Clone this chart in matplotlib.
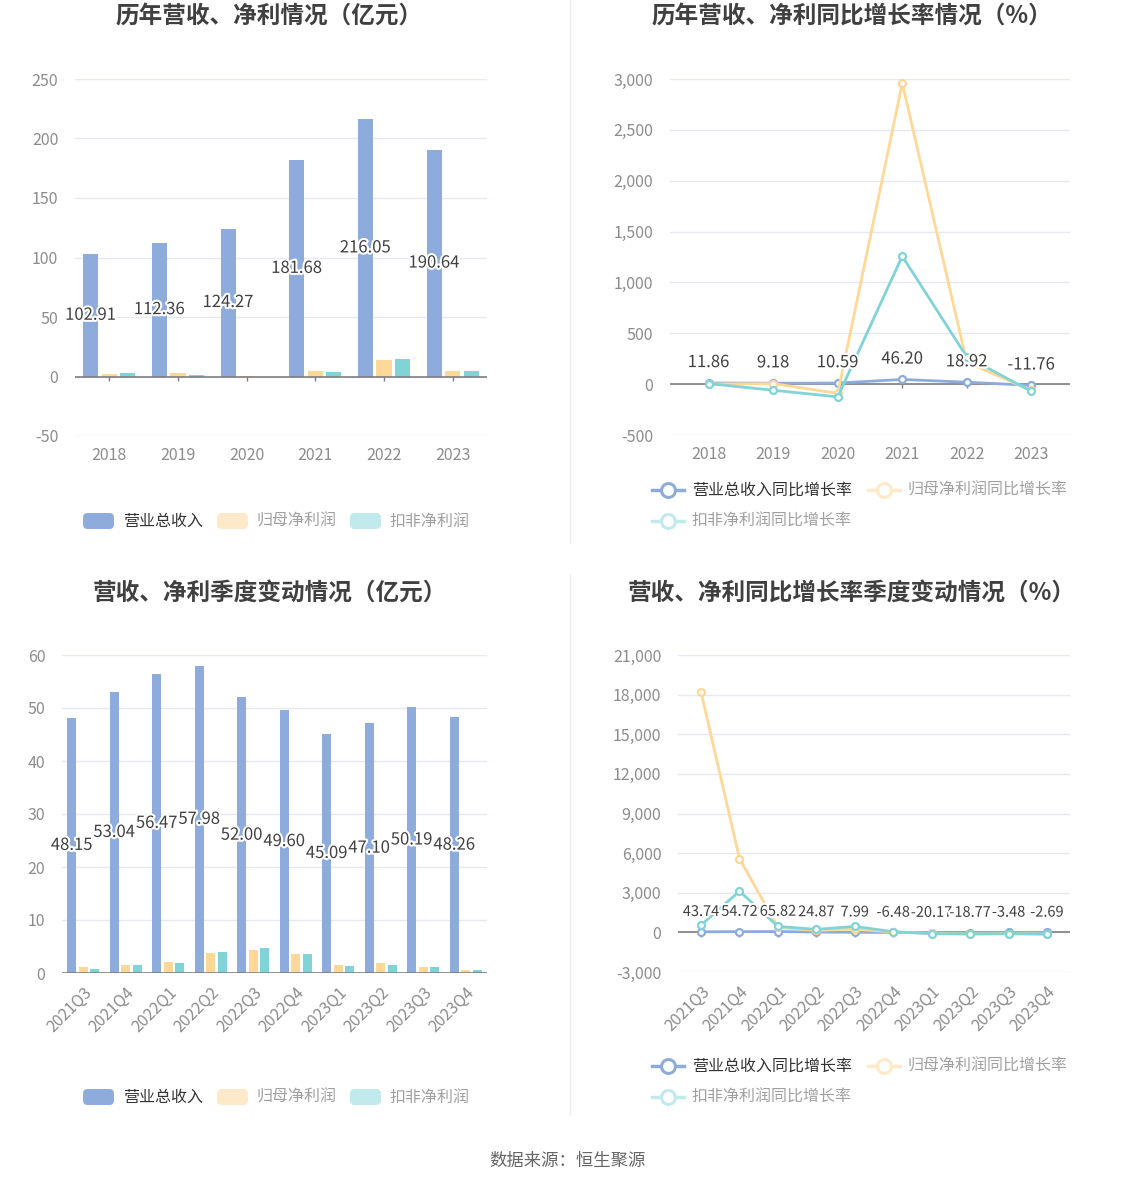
import matplotlib.pyplot as plt
import matplotlib.patches as mpatches
from matplotlib.lines import Line2D
import matplotlib.patheffects as pe
import numpy as np

plt.rcParams['font.family'] = ['Noto Sans CJK SC', 'DejaVu Sans']

# annual data
years = ['2018', '2019', '2020', '2021', '2022', '2023']
revenue = [102.91, 112.36, 124.27, 181.68, 216.05, 190.64]
net_profit = [2.5, 2.6, 0.14, 4.3, 13.5, 5.0]
net_profit_ded = [2.7, 1.0, -0.3, 3.7, 14.3, 4.3]
rev_growth = [11.86, 9.18, 10.59, 46.20, 18.92, -11.76]
np_growth = [2, 5, -90, 2960, 215, -62]
ded_growth = [5, -60, -125, 1258, 268, -70]

# quarterly data
quarters = ['2021Q3', '2021Q4', '2022Q1', '2022Q2', '2022Q3', '2022Q4',
            '2023Q1', '2023Q2', '2023Q3', '2023Q4']
q_revenue = [48.15, 53.04, 56.47, 57.98, 52.00, 49.60, 45.09, 47.10, 50.19, 48.26]
q_net_profit = [1.05, 1.6, 2.1, 3.8, 4.3, 3.5, 1.45, 1.9, 1.1, 0.6]
q_net_profit_ded = [0.75, 1.6, 1.9, 4.0, 4.8, 3.6, 1.4, 1.6, 1.05, 0.6]
q_rev_growth = [43.74, 54.72, 65.82, 24.87, 7.99, -6.48, -20.17, -18.77, -3.48, -2.69]
q_np_growth = [18180, 5590, 380, 150, 250, 30, -80, -120, -100, -130]
q_ded_growth = [550, 3120, 450, 230, 450, 50, -100, -120, -100, -130]

BLUE = '#8eacdb'
YELLOW = '#ffd796'
CYAN = '#80d4d8'
BLUE_L = '#8eacdb'
YELLOW_L = '#ffe9c8'
CYAN_L = '#c0eaeb'
GRID = '#e6e9f2'
TICK = '#8c8c8c'
W, H = 1134, 1188

fig = plt.figure(figsize=(W / 100, H / 100), dpi=100)


def box(x0, x1, y_top, y_bot):
    return [x0 / W, 1 - y_bot / H, (x1 - x0) / W, (y_bot - y_top) / H]


def style_axes(ax, ylim, yticks, fmt):
    ax.set_ylim(*ylim)
    ax.set_yticks(yticks)
    ax.set_yticklabels([fmt(v) for v in yticks])
    ax.grid(axis='y', color=GRID, lw=1)
    ax.set_axisbelow(True)
    for s in ax.spines.values():
        s.set_visible(False)
    ax.tick_params(axis='y', length=0, labelsize=11.5, colors=TICK, pad=12)
    ax.tick_params(axis='x', length=0, labelsize=11.5, colors=TICK, pad=8)


def zero_axis(ax, n, tick_len):
    ax.axhline(0, color='#7f7f7f', lw=1.2, zorder=3)
    ax.vlines(np.arange(n), -tick_len, 0, color='#7f7f7f', lw=1, zorder=3)


def bar_panel(ax, cats, rev, npf, ded, ylim, yticks, tick_len, rot):
    x = np.arange(len(cats))
    bw = 0.22
    off = 0.27
    ax.bar(x - off, rev, bw, color=BLUE, zorder=2)
    ax.bar(x, npf, bw, color=YELLOW, zorder=2)
    ax.bar(x + off, ded, bw, color=CYAN, zorder=2)
    style_axes(ax, ylim, yticks, lambda v: f'{v:g}')
    ax.set_xlim(-0.5, len(cats) - 0.5)
    ax.set_xticks(x)
    if rot:
        ax.set_xticklabels(cats, rotation=45, ha='right', rotation_mode='anchor')
    else:
        ax.set_xticklabels(cats)
    zero_axis(ax, len(cats), tick_len)
    for xi, v in zip(x, rev):
        ax.text(xi - off, v / 2, f'{v:.2f}', ha='center', va='center', fontsize=12,
                color='#404040', zorder=5,
                path_effects=[pe.withStroke(linewidth=3, foreground='white')])


def line_panel(ax, cats, g1, g2, g3, ylim, yticks, tick_len, rot, lab_off, lab_fs):
    x = np.arange(len(cats))
    kw = dict(lw=2, marker='o', ms=5, mfc='white', mew=1.6, zorder=4)
    ax.plot(x, g1, color=BLUE, **kw)
    ax.plot(x, g2, color=YELLOW, **kw)
    ax.plot(x, g3, color=CYAN, **kw)
    style_axes(ax, ylim, yticks, lambda v: f'{v:,.0f}')
    ax.set_xlim(-0.6, len(cats) - 0.4)
    ax.set_xticks(x)
    if rot:
        ax.set_xticklabels(cats, rotation=45, ha='right', rotation_mode='anchor')
    else:
        ax.set_xticklabels(cats)
    zero_axis(ax, len(cats), tick_len)
    for xi, v in zip(x, g1):
        ax.text(xi, v + lab_off, f'{v:.2f}', ha='center', va='center', fontsize=lab_fs,
                color='#404040', zorder=5,
                path_effects=[pe.withStroke(linewidth=3, foreground='white')])


def bar_legend(y):
    items = [('营业总收入', BLUE_L, '#333333', 83),
             ('归母净利润', YELLOW_L, '#a0a0a0', 217),
             ('扣非净利润', CYAN_L, '#a0a0a0', 350)]
    for label, c, tc, x0 in items:
        fig.patches.append(mpatches.FancyBboxPatch(
            (x0 / W, 1 - (y + 8) / H), 31 / W, 16 / H,
            boxstyle='round,pad=0,rounding_size=0.004', fc=c, ec='none',
            transform=fig.transFigure))
        fig.text((x0 + 40) / W, 1 - y / H, label, fontsize=11.5, color=tc,
                 va='center', ha='left')


def line_legend(y1, y2):
    items = [('营业总收入同比增长率', BLUE_L, '#333333', 652, y1),
             ('归母净利润同比增长率', YELLOW_L, '#a0a0a0', 868, y1),
             ('扣非净利润同比增长率', CYAN_L, '#a0a0a0', 652, y2)]
    for label, c, tc, x0, y in items:
        fig.lines.append(Line2D([x0 / W, (x0 + 32) / W], [1 - y / H, 1 - y / H],
                                color=c, lw=2.5, transform=fig.transFigure))
        fig.lines.append(Line2D([(x0 + 16) / W], [1 - y / H], color=c, marker='o',
                                ms=10, mfc='white', mew=2.2,
                                transform=fig.transFigure))
        fig.text((x0 + 40) / W, 1 - y / H, label, fontsize=11.5, color=tc,
                 va='center', ha='left')


# top left
ax1 = fig.add_axes(box(75, 487, 79, 436))
bar_panel(ax1, years, revenue, net_profit, net_profit_ded, (-50, 250),
          [-50, 0, 50, 100, 150, 200, 250], 4, False)
fig.text(269 / W, 1 - 17 / H, '历年营收、净利情况（亿元）', fontsize=17,
         fontweight='bold', color='#404040', ha='center', va='center')
bar_legend(521)

# top right
ax2 = fig.add_axes(box(670, 1070, 79, 435))
line_panel(ax2, years, rev_growth, np_growth, ded_growth, (-500, 3000),
           list(range(-500, 3001, 500)), 40, False, 200, 12)
fig.text(852 / W, 1 - 17 / H, '历年营收、净利同比增长率情况（%）', fontsize=17,
         fontweight='bold', color='#404040', ha='center', va='center')
line_legend(490, 521)

# bottom left
ax3 = fig.add_axes(box(62, 487, 655, 973))
bar_panel(ax3, quarters, q_revenue, q_net_profit, q_net_profit_ded, (0, 60),
          [0, 10, 20, 30, 40, 50, 60], 1, True)
fig.text(270 / W, 1 - 593 / H, '营收、净利季度变动情况（亿元）', fontsize=17,
         fontweight='bold', color='#404040', ha='center', va='center')
bar_legend(1097)

# bottom right
ax4 = fig.add_axes(box(678, 1070, 655, 972))
line_panel(ax4, quarters, q_rev_growth, q_np_growth, q_ded_growth, (-3000, 21000),
           list(range(-3000, 21001, 3000)), 350, True, 1500, 10.5)
fig.text(852 / W, 1 - 593 / H, '营收、净利同比增长率季度变动情况（%）', fontsize=17,
         fontweight='bold', color='#404040', ha='center', va='center')
line_legend(1066, 1097)

# dividers
fig.lines.append(Line2D([570 / W, 570 / W], [1, 1 - 543 / H], color='#eeeeee',
                        lw=1, transform=fig.transFigure))
fig.lines.append(Line2D([570 / W, 570 / W], [1 - 574 / H, 1 - 1115 / H],
                        color='#eeeeee', lw=1, transform=fig.transFigure))

fig.text(567 / W, 1 - 1161 / H, '数据来源：恒生聚源', fontsize=12.5, color='#666666',
         ha='center', va='center')

fig.savefig('out.png', dpi=100, facecolor='white')
